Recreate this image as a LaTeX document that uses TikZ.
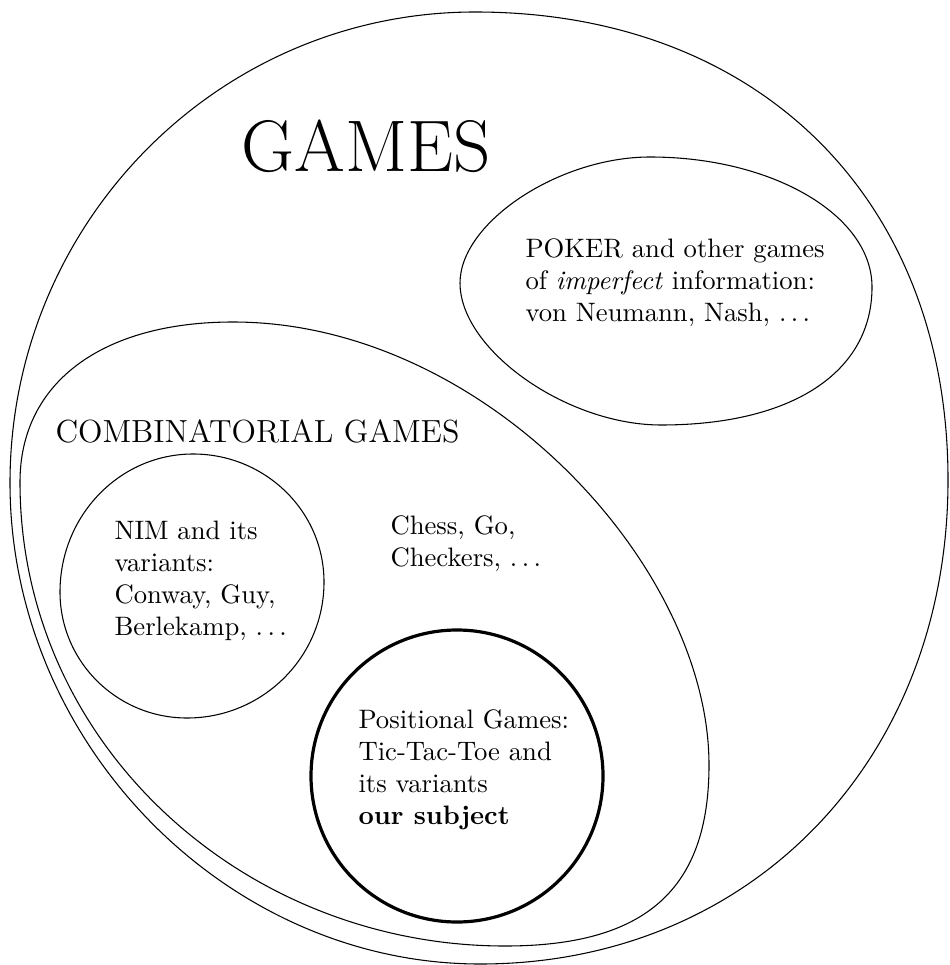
\documentclass[tikz,border=0pt]{standalone}
\begin{document}
\begin{tikzpicture}[x=0.375pt,y=-0.375pt,
  setline/.style={line width=0.4pt},
  subjline/.style={line width=1.2pt},
  lbl/.style={anchor=base west,inner sep=0pt,font=\fontsize{10}{12}\selectfont}]
\useasboundingbox (0,0) rectangle (949,965);
% outer: GAMES
\draw[setline] (475,12) .. controls (759,12) and (948,199) .. (948,480)
  .. controls (948,760) and (751,964) .. (480,964)
  .. controls (226,964) and (10,743) .. (10,483)
  .. controls (10,223) and (218,12) .. cycle;
% combinatorial games
\draw[setline] (233,322) .. controls (483,322) and (709,565) .. (709,765)
  .. controls (709,890) and (645,946) .. (505,946)
  .. controls (243,946) and (20,744) .. (20,482)
  .. controls (20,382) and (103,322) .. cycle;
% poker
\draw[setline] (650,157) .. controls (772.6,157) and (872,215.2) .. (872,287)
  .. controls (872,372.6) and (791.8,425) .. (661,425)
  .. controls (566.5,425) and (460,349.7) .. (460,283)
  .. controls (460,222.5) and (558.8,157) .. cycle;
% nim
\draw[setline] (193,454) .. controls (265.3,454) and (324,511.3) .. (324,582)
  .. controls (324,657.1) and (262.7,718) .. (187,718)
  .. controls (116.9,718) and (60,661.6) .. (60,592)
  .. controls (60,515.8) and (119.5,454) .. cycle;
% positional games
\draw[subjline] (457,776) circle[radius=146];
% labels
\node[lbl,font=\fontsize{27.4}{32}\selectfont] (games) at (241,172) {GAMES};
\node[lbl,font=\large] (comb) at (55,442) {COMBINATORIAL GAMES};
\node[lbl] (poker) at (525,258) {\begin{tabular}[t]{@{}l@{}}POKER and other games\\ of \emph{imperfect} information:\\ von Neumann, Nash, $\ldots$\end{tabular}};
\node[lbl] (nim) at (114,539) {\begin{tabular}[t]{@{}l@{}}NIM and its\\ variants:\\ Conway, Guy,\\ Berlekamp, $\ldots$\end{tabular}};
\node[lbl] (chess) at (390,534) {\begin{tabular}[t]{@{}l@{}}Chess, Go,\\ Checkers, $\ldots$\end{tabular}};
\node[lbl] (pos) at (358,728) {\begin{tabular}[t]{@{}l@{}}Positional Games:\\ Tic-Tac-Toe and\\ its variants\\ \textbf{our subject}\end{tabular}};
\end{tikzpicture}
\end{document}
